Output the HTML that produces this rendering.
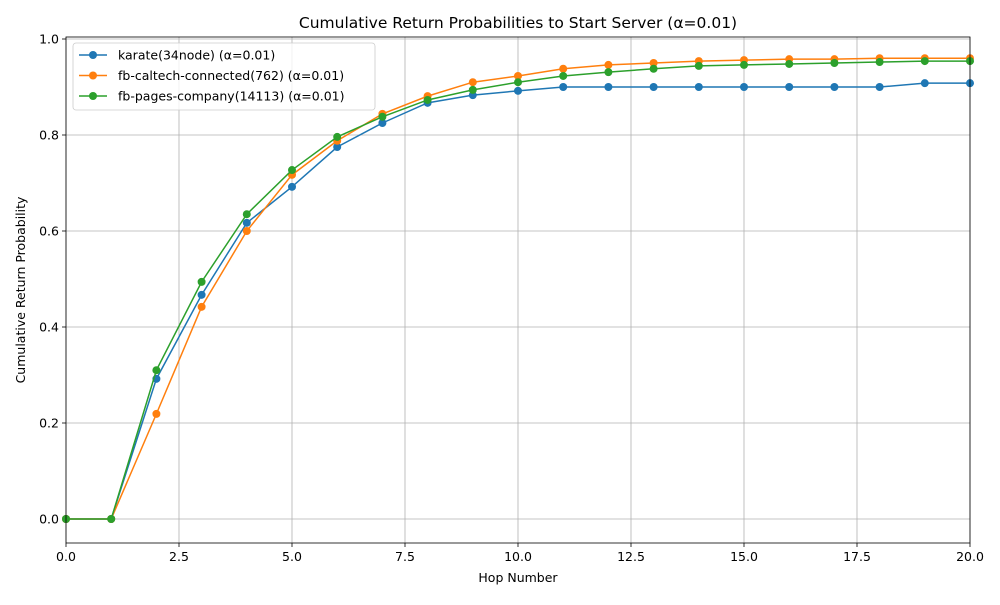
<!DOCTYPE html>
<html><head><meta charset="utf-8"><style>
body{margin:0;background:#fff;font-family:"Liberation Sans","DejaVu Sans",sans-serif;}
svg text{font-family:"DejaVu Sans","Liberation Sans",sans-serif;}
</style></head><body>
<svg id="c" width="1000" height="600" viewBox="0 0 1000 600"></svg>
<script>
const hops=[0,1,2,3,4,5,6,7,8,9,10,11,12,13,14,15,16,17,18,19,20];
const karate=[0,0,0.292,0.467,0.617,0.692,0.775,0.825,0.867,0.883,0.892,0.9,0.9,0.9,0.9,0.9,0.9,0.9,0.9,0.908,0.908];
const caltech=[0,0,0.219,0.442,0.6,0.717,0.788,0.844,0.881,0.91,0.923,0.938,0.946,0.95,0.954,0.956,0.958,0.958,0.96,0.96,0.96];
const pages=[0,0,0.31,0.494,0.635,0.727,0.796,0.838,0.873,0.894,0.91,0.923,0.931,0.938,0.944,0.946,0.948,0.95,0.952,0.954,0.954];
const seriesNames=["karate(34node) (α=0.01)","fb-caltech-connected(762) (α=0.01)","fb-pages-company(14113) (α=0.01)"];
const seriesColors=["#1f77b4","#ff7f0e","#2ca02c"];
const xTicks=[0,2.5,5,7.5,10,12.5,15,17.5,20];
const xTickLabels=["0.0","2.5","5.0","7.5","10.0","12.5","15.0","17.5","20.0"];
const yTicks=[0,0.2,0.4,0.6,0.8,1.0];
const yTickLabels=["0.0","0.2","0.4","0.6","0.8","1.0"];
const L=66,R=970,T=37,B=543;
const X=v=>L+(R-L)*v/20;
const Y=v=>519-480*v;
const svg=document.getElementById('c');
const NS="http://www.w3.org/2000/svg";
function mk(tag,attrs,parent){const e=document.createElementNS(NS,tag);for(const k in attrs)e.setAttribute(k,attrs[k]);(parent||svg).appendChild(e);return e;}
// grid
xTicks.forEach((t,i)=>{
 const g=mk('line',{x1:X(t),x2:X(t),y1:T,y2:B,stroke:'#b0b0b0','stroke-width':0.8});
 
 
 mk('line',{x1:X(t),x2:X(t),y1:B,y2:B+4,stroke:'#000','stroke-width':0.8});
 const tx=mk('text',{x:X(t),y:B+18,'text-anchor':'middle','font-size':12.5,fill:'#000'});
 tx.textContent=xTickLabels[i];
 
 
});
yTicks.forEach((t,i)=>{
 const g=mk('line',{x1:L,x2:R,y1:Y(t),y2:Y(t),stroke:'#b0b0b0','stroke-width':0.8});
 
 
 mk('line',{x1:L-4,x2:L,y1:Y(t),y2:Y(t),stroke:'#000','stroke-width':0.8});
 const tx=mk('text',{x:L-7,y:Y(t)+4.5,'text-anchor':'end','font-size':12.5,fill:'#000'});
 tx.textContent=yTickLabels[i];
 
 
});
// series
[karate,caltech,pages].forEach((d,si)=>{
 const pts=d.map((v,i)=>X(hops[i])+','+Y(v)).join(' ');
 const pl=mk('polyline',{points:pts,fill:'none',stroke:seriesColors[si],'stroke-width':1.5});
 
 
 d.forEach((v,i)=>{
  const c=mk('circle',{cx:X(hops[i]),cy:Y(v),r:4,fill:seriesColors[si]});
  
  
 });
});
const frame=mk('rect',{x:L,y:T,width:R-L,height:B-T,fill:'none',stroke:'#000','stroke-width':0.8});


// legend
const lg=mk('g',{});


mk('rect',{x:73,y:43,width:302,height:67,rx:3,fill:'#fff','fill-opacity':0.8,stroke:'#ccc','stroke-width':0.8},lg);
seriesNames.forEach((n,i)=>{
 const y=55+i*20.5;
 const e=mk('g',{},lg);
 
 
 mk('line',{x1:79,x2:107,y1:y,y2:y,stroke:seriesColors[i],'stroke-width':1.5},e);
 mk('circle',{cx:93,cy:y,r:4,fill:seriesColors[i]},e);
 const t=mk('text',{x:118,y:y+4.5,'font-size':12.5,fill:'#000'},e);
 t.textContent=n;
});
const title=mk('text',{x:518,y:28,'text-anchor':'middle','font-size':15.5,fill:'#000'});
title.textContent="Cumulative Return Probabilities to Start Server (α=0.01)";


const xt=mk('text',{x:518,y:582,'text-anchor':'middle','font-size':12.5,fill:'#000'});
xt.textContent="Hop Number";


const yt=mk('text',{x:0,y:0,'text-anchor':'middle','font-size':12.5,fill:'#000',transform:'translate(25,290) rotate(-90)'});
yt.textContent="Cumulative Return Probability";


</script>
</body></html>
